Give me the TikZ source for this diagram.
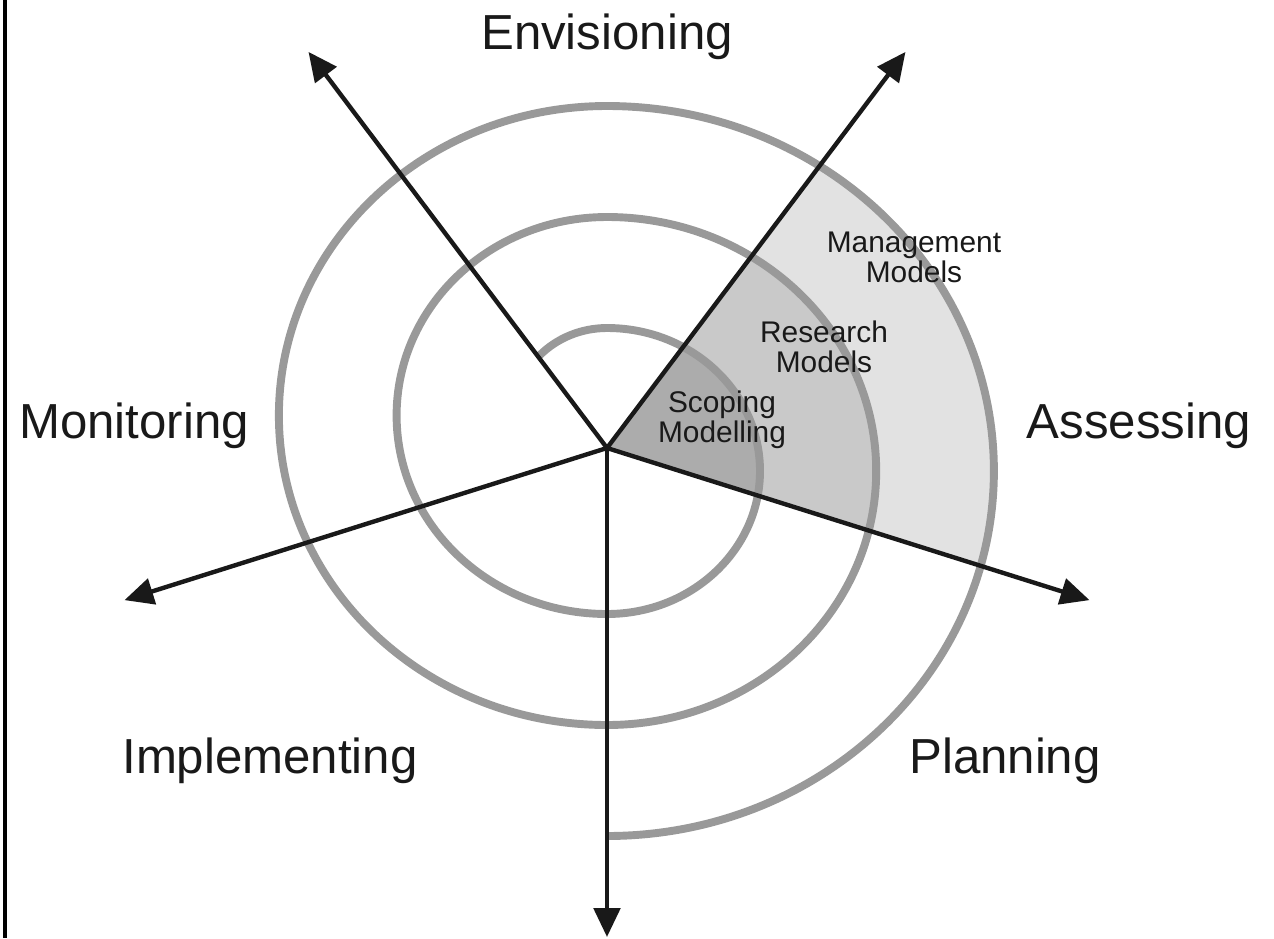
\documentclass[tikz,border=0pt]{standalone}
\usepackage{fontspec}
\setmainfont{Liberation Sans}
\usetikzlibrary{arrows.meta}

\definecolor{spiralgray}{gray}{0.6}
\definecolor{outershade}{gray}{0.885}
\definecolor{middleshade}{gray}{0.79}
\definecolor{innershade}{gray}{0.675}

\tikzstyle{spiral} = [draw=spiralgray, line width=4.5pt]
\tikzstyle{arrow} = [line width=2.5pt, draw=black!90,
-{Triangle[length=16.5pt,width=15pt]}]
\tikzstyle{phase} = [font=\fontsize{28}{34}\selectfont, anchor=base,
text=black!90]
\tikzstyle{model} = [font=\fontsize{17}{17}\selectfont, align=center,
text=black!90]

\begin{document}
\begin{tikzpicture}[x=0.02cm, y=0.02cm]
    \useasboundingbox (-607,-490) rectangle (667,448);
    \fill[black] (-604,-490) rectangle (-599.5,448);

    \coordinate (c) at (0,0);
    \coordinate (tipnw) at (127:496);
    \coordinate (tipne) at (53:496);
    \coordinate (tipese) at (-17.5:506);
    \coordinate (tips) at (270:489);
    \coordinate (tipwsw) at (197.5:506);
    \coordinate (spstart) at ([shift={(0,32.5)}]137:92.75 and 87.5);

    % shaded sector
    \begin{scope}
        \clip (c) -- (53:900) -- (20:900) -- (-17.5:900) -- cycle;
        \fill[outershade] (0,-23) ellipse [x radius=386.9, y radius=365];
        \fill[middleshade] (0,-23) ellipse [x radius=269.2, y radius=254];
        \fill[innershade] (0,-23) ellipse [x radius=151.6, y radius=143];
    \end{scope}

    % spiral
    \draw [spiral] (spstart)
        arc [start angle=137, end angle=90, x radius=92.75, y radius=87.5]
        arc [start angle=90, end angle=-90, x radius=153, y radius=143]
        arc [start angle=-90, end angle=-270, x radius=210.4, y radius=198.5]
        arc [start angle=90, end angle=-90, x radius=269.2, y radius=254]
        arc [start angle=-90, end angle=-270, x radius=328.1, y radius=309.5]
        arc [start angle=90, end angle=-90, x radius=386.9, y radius=365];

    \draw [arrow] (c) -- (tipnw);
    \draw [arrow] (c) -- (tipne);
    \draw [arrow] (c) -- (tipese);
    \draw [arrow] (c) -- (tips);
    \draw [arrow] (c) -- (tipwsw);

    \node (env) [phase] at (0,399) {Envisioning};
    \node (mon) [phase] at (-473,10) {Monitoring};
    \node (ass) [phase] at (532,10) {Assessing};
    \node (impl) [phase] at (-337,-325) {Implementing};
    \node (plan) [phase] at (398,-325) {Planning};

    \node (scop) [model] at (115,28) {Scoping\\Modelling};
    \node (res) [model] at (217,101) {Research\\Models};
    \node (mgmt) [model] at (307,191) {Management\\Models};
\end{tikzpicture}
\end{document}
